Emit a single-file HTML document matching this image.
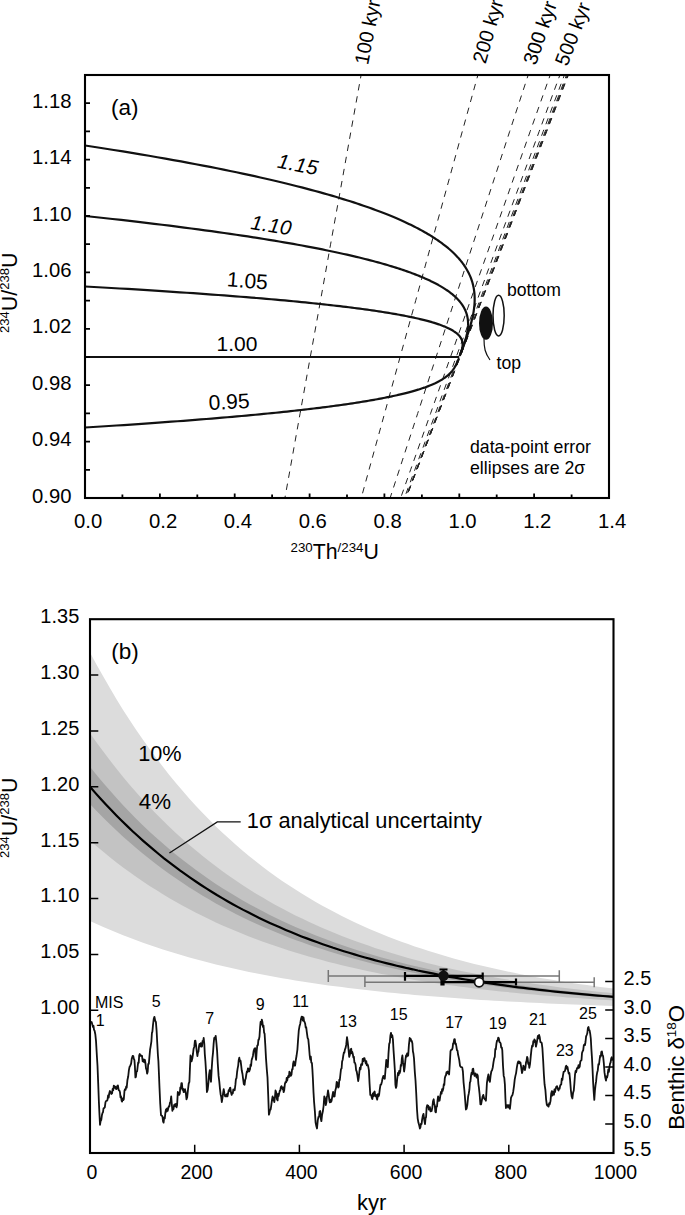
<!DOCTYPE html><html><head><meta charset="utf-8"><style>html,body{margin:0;padding:0;background:#fff;overflow:hidden;width:685px;height:1215px}svg{display:block}text{font-family:"Liberation Sans",sans-serif;fill:#000}</style></head><body>
<svg width="685" height="1215" viewBox="0 0 685 1215">
<rect width="685" height="1215" fill="#fff"/>
<defs><clipPath id="ca"><rect x="85" y="75" width="524" height="423"/></clipPath>
<clipPath id="cb"><rect x="90" y="619.2" width="523.5" height="533.8"/></clipPath></defs>
<g clip-path="url(#ca)" fill="none" stroke="#222" stroke-width="1" stroke-dasharray="6.4,5.9" stroke-dashoffset="3.0"><path d="M361.1,75.0 L350.9,131.4 L340.8,187.8 L330.6,244.2 L320.5,300.6 L310.3,357.0 L300.1,413.4 L290.0,469.8 L279.8,526.2"/><path d="M477.9,75.0 L462.3,131.4 L446.8,187.8 L431.2,244.2 L415.7,300.6 L400.1,357.0 L384.6,413.4 L369.0,469.8 L353.5,526.2"/><path d="M528.2,75.0 L509.7,131.4 L491.3,187.8 L472.9,244.2 L454.5,300.6 L436.1,357.0 L417.7,413.4 L399.3,469.8 L380.9,526.2"/><path d="M550.2,75.0 L530.2,131.4 L510.3,187.8 L490.4,244.2 L470.4,300.6 L450.5,357.0 L430.6,413.4 L410.6,469.8 L390.7,526.2"/><path d="M559.9,75.0 L539.2,131.4 L518.5,187.8 L497.7,244.2 L477.0,300.6 L456.2,357.0 L435.5,413.4 L414.8,469.8 L394.0,526.2"/><path d="M564.4,75.0 L543.2,131.4 L522.1,187.8 L500.9,244.2 L479.7,300.6 L458.5,357.0 L437.4,413.4 L416.2,469.8 L395.0,526.2"/><path d="M566.5,75.0 L545.1,131.4 L523.7,187.8 L502.3,244.2 L480.9,300.6 L459.5,357.0 L438.1,413.4 L416.7,469.8 L395.3,526.2"/><path d="M567.4,75.0 L545.9,131.4 L524.4,187.8 L502.9,244.2 L481.4,300.6 L459.8,357.0 L438.3,413.4 L416.8,469.8 L395.3,526.2"/><path d="M568.1,75.0 L546.5,131.4 L524.9,187.8 L503.3,244.2 L481.7,300.6 L460.0,357.0 L438.4,413.4 L416.8,469.8 L395.2,526.2"/><path d="M568.4,75.0 L546.7,131.4 L525.0,187.8 L503.4,244.2 L481.7,300.6 L460.1,357.0 L438.4,413.4 L416.8,469.8 L395.1,526.2"/></g>
<g clip-path="url(#ca)" fill="none" stroke="#111" stroke-width="2.2" stroke-linejoin="round"><path d="M85.00,145.50 L94.82,147.00 L104.40,148.49 L113.76,149.97 L122.90,151.44 L131.82,152.90 L140.52,154.35 L149.02,155.79 L157.31,157.22 L165.41,158.64 L173.32,160.05 L181.03,161.44 L188.56,162.83 L195.91,164.21 L203.09,165.58 L210.09,166.94 L216.93,168.29 L223.60,169.63 L230.11,170.96 L236.46,172.28 L242.66,173.59 L248.71,174.89 L254.62,176.19 L260.38,177.47 L266.00,178.74 L271.49,180.01 L276.84,181.27 L282.07,182.51 L287.17,183.75 L292.14,184.98 L296.99,186.20 L301.73,187.42 L306.35,188.62 L310.85,189.82 L315.25,191.00 L319.54,192.18 L323.72,193.35 L327.81,194.51 L331.79,195.67 L335.67,196.81 L339.46,197.95 L343.15,199.08 L346.76,200.20 L350.27,201.31 L353.70,202.42 L357.04,203.52 L360.30,204.61 L363.48,205.69 L366.58,206.76 L369.60,207.83 L372.55,208.89 L375.42,209.94 L378.23,210.98 L380.96,212.02 L383.62,213.05 L386.22,214.07 L388.75,215.09 L391.21,216.09 L393.62,217.09 L395.96,218.09 L398.24,219.07 L400.47,220.05 L402.64,221.03 L404.75,221.99 L406.81,222.95 L408.82,223.90 L410.77,224.85 L412.68,225.78 L414.53,226.72 L416.34,227.64 L418.10,228.56 L419.82,229.47 L421.49,230.38 L423.12,231.28 L424.70,232.17 L426.24,233.05 L427.75,233.93 L429.21,234.81 L430.63,235.68 L432.02,236.54 L433.37,237.39 L434.68,238.24 L435.96,239.08 L437.20,239.92 L438.42,240.75 L439.59,241.58 L440.74,242.40 L441.85,243.21 L442.94,244.02 L443.99,244.82 L445.02,245.62 L446.02,246.41 L446.99,247.19 L447.93,247.97 L448.85,248.75 L449.74,249.52 L450.61,250.28 L451.45,251.04 L452.27,251.79 L453.06,252.54 L453.84,253.28 L454.59,254.01 L455.32,254.75 L456.02,255.47 L456.71,256.19 L457.38,256.91 L458.03,257.62 L458.65,258.32 L459.26,259.03 L459.86,259.72 L460.43,260.41 L460.99,261.10 L461.53,261.78 L462.05,262.45 L462.56,263.13 L463.05,263.79 L463.53,264.45 L463.99,265.11 L464.44,265.76 L464.87,266.41 L466.47,268.96 L467.87,271.43 L469.08,273.83 L470.14,276.17 L471.05,278.44 L471.82,280.65 L472.48,282.80 L473.03,284.88 L473.48,286.91 L473.85,288.88 L474.13,290.79 L474.35,292.65 L474.51,294.46 L474.61,296.22 L474.66,297.92 L474.67,299.58 L474.64,301.20 L474.57,302.77 L474.47,304.29 L474.35,305.77 L474.20,307.21 L474.04,308.61 L473.85,309.97 L473.65,311.29 L473.44,312.57 L473.22,313.82 L472.99,315.04 L472.75,316.21 L472.50,317.36 L472.25,318.47 L471.99,319.56 L471.74,320.61 L471.48,321.63 L471.22,322.63 L470.96,323.59 L470.70,324.53 L470.44,325.44 L470.19,326.33 L469.93,327.19 L469.68,328.03 L469.43,328.84 L469.19,329.63 L468.95,330.40 L468.71,331.15 L468.47,331.88 L468.24,332.58 L468.02,333.27 L467.79,333.94 L467.58,334.58 L467.36,335.21 L467.15,335.83 L466.95,336.42 L466.75,337.00 L466.55,337.56 L466.36,338.11 L466.17,338.64 L465.99,339.15 L465.81,339.65 L465.63,340.14 L465.46,340.62 L465.30,341.08 L465.13,341.52 L464.97,341.96 L464.82,342.38 L464.67,342.79 L464.52,343.19 L464.38,343.58 L464.24,343.96 L464.10,344.32 L463.97,344.68 L463.84,345.03 L463.72,345.36 L463.59,345.69 L463.48,346.01 L463.36,346.32 L463.25,346.62 L463.14,346.91 L463.03,347.19 L462.93,347.47 L462.83,347.73 L462.73,347.99 L462.63,348.25 L462.54,348.49 L462.45,348.73 L462.36,348.97 L462.27,349.19 L462.19,349.41 L462.11,349.62 L462.03,349.83 L461.95,350.03 L461.88,350.23 L461.81,350.42 L461.74,350.60 L461.67,350.78 L461.60,350.96 L461.54,351.13 L461.47,351.29 L461.41,351.45 L461.35,351.61 L461.29,351.76 L461.24,351.91 L461.18,352.05 L461.13,352.19 L461.08,352.32 L461.03,352.46 L460.98,352.58 L460.93,352.71 L460.89,352.83 L460.84,352.95 L460.80,353.06 L460.76,353.17 L460.71,353.28 L460.67,353.38 L460.63,353.48 L460.60,353.58 L460.56,353.68 L460.52,353.77 L460.49,353.86 L460.46,353.95"/><path d="M85.00,216.00 L94.39,217.00 L103.57,218.00 L112.52,218.98 L121.27,219.96 L129.81,220.93 L138.15,221.90 L146.30,222.86 L154.25,223.81 L162.02,224.76 L169.60,225.70 L177.00,226.63 L184.23,227.55 L191.29,228.47 L198.18,229.39 L204.91,230.29 L211.48,231.19 L217.90,232.09 L224.16,232.97 L230.27,233.85 L236.24,234.73 L242.07,235.59 L247.76,236.46 L253.32,237.31 L258.74,238.16 L264.04,239.01 L269.20,239.84 L274.25,240.68 L279.17,241.50 L283.98,242.32 L288.67,243.14 L293.26,243.94 L297.73,244.75 L302.09,245.54 L306.35,246.34 L310.51,247.12 L314.57,247.90 L318.53,248.68 L322.40,249.44 L326.17,250.21 L329.85,250.97 L333.45,251.72 L336.95,252.47 L340.38,253.21 L343.72,253.95 L346.98,254.68 L350.16,255.40 L353.26,256.13 L356.29,256.84 L359.25,257.55 L362.13,258.26 L364.94,258.96 L367.69,259.66 L370.37,260.35 L372.98,261.03 L375.53,261.71 L378.01,262.39 L380.44,263.06 L382.81,263.73 L385.12,264.39 L387.37,265.05 L389.56,265.70 L391.71,266.35 L393.80,266.99 L395.83,267.63 L397.82,268.27 L399.76,268.90 L401.65,269.52 L403.49,270.14 L405.29,270.76 L407.04,271.37 L408.75,271.98 L410.42,272.58 L412.04,273.18 L413.63,273.78 L415.17,274.37 L416.68,274.96 L418.15,275.54 L419.58,276.12 L420.97,276.69 L422.33,277.26 L423.65,277.83 L424.95,278.39 L426.20,278.95 L427.43,279.50 L428.63,280.05 L429.79,280.60 L430.92,281.14 L432.03,281.68 L433.11,282.21 L434.15,282.75 L435.18,283.27 L436.17,283.80 L437.14,284.32 L438.09,284.83 L439.00,285.34 L439.90,285.85 L440.77,286.36 L441.62,286.86 L442.45,287.36 L443.25,287.85 L444.04,288.34 L444.80,288.83 L445.54,289.31 L446.26,289.80 L446.97,290.27 L447.65,290.75 L448.31,291.22 L448.96,291.68 L449.59,292.15 L450.20,292.61 L450.80,293.06 L451.38,293.52 L451.94,293.97 L452.49,294.42 L453.03,294.86 L453.54,295.30 L454.05,295.74 L454.54,296.18 L455.01,296.61 L456.78,298.30 L458.36,299.95 L459.76,301.56 L460.99,303.11 L462.09,304.63 L463.05,306.10 L463.89,307.53 L464.63,308.92 L465.27,310.27 L465.82,311.58 L466.29,312.86 L466.69,314.10 L467.03,315.31 L467.31,316.48 L467.53,317.62 L467.72,318.72 L467.86,319.80 L467.96,320.84 L468.03,321.86 L468.07,322.85 L468.08,323.81 L468.07,324.74 L468.04,325.65 L467.99,326.53 L467.93,327.38 L467.85,328.21 L467.76,329.02 L467.66,329.81 L467.55,330.57 L467.43,331.32 L467.30,332.04 L467.17,332.74 L467.03,333.42 L466.90,334.08 L466.75,334.73 L466.61,335.35 L466.46,335.96 L466.31,336.55 L466.17,337.13 L466.02,337.69 L465.87,338.23 L465.72,338.76 L465.58,339.27 L465.43,339.77 L465.29,340.25 L465.14,340.72 L465.00,341.18 L464.86,341.62 L464.73,342.06 L464.59,342.48 L464.46,342.88 L464.33,343.28 L464.20,343.67 L464.07,344.04 L463.95,344.40 L463.83,344.76 L463.71,345.10 L463.60,345.44 L463.48,345.76 L463.37,346.08 L463.26,346.38 L463.16,346.68 L463.05,346.97 L462.95,347.25 L462.85,347.53 L462.76,347.79 L462.66,348.05 L462.57,348.30 L462.48,348.55 L462.40,348.79 L462.31,349.02 L462.23,349.24 L462.15,349.46 L462.07,349.67 L461.99,349.88 L461.92,350.08 L461.85,350.27 L461.78,350.46 L461.71,350.64 L461.64,350.82 L461.58,351.00 L461.51,351.17 L461.45,351.33 L461.39,351.49 L461.33,351.64 L461.27,351.79 L461.22,351.94 L461.17,352.08 L461.11,352.22 L461.06,352.35 L461.01,352.49 L460.96,352.61 L460.92,352.74 L460.87,352.86 L460.83,352.97 L460.78,353.08 L460.74,353.19 L460.70,353.30 L460.66,353.41 L460.62,353.51 L460.59,353.60 L460.55,353.70 L460.51,353.79 L460.48,353.88 L460.45,353.97 L460.41,354.06 L460.38,354.14 L460.35,354.22 L460.32,354.30 L460.29,354.37 L460.27,354.45 L460.24,354.52 L460.21,354.59 L460.18,354.66 L460.16,354.72 L460.14,354.79 L460.11,354.85 L460.09,354.91 L460.07,354.97"/><path d="M85.00,286.50 L93.97,287.00 L102.73,287.50 L111.28,287.99 L119.64,288.48 L127.81,288.97 L135.78,289.45 L143.57,289.93 L151.18,290.41 L158.62,290.88 L165.88,291.35 L172.97,291.81 L179.90,292.28 L186.67,292.74 L193.28,293.19 L199.73,293.65 L206.04,294.10 L212.20,294.54 L218.21,294.99 L224.09,295.43 L229.83,295.86 L235.44,296.30 L240.91,296.73 L246.26,297.16 L251.48,297.58 L256.58,298.00 L261.56,298.42 L266.43,298.84 L271.18,299.25 L275.82,299.66 L280.36,300.07 L284.78,300.47 L289.11,300.87 L293.33,301.27 L297.46,301.67 L301.48,302.06 L305.42,302.45 L309.26,302.84 L313.01,303.22 L316.67,303.60 L320.25,303.98 L323.74,304.36 L327.15,304.73 L330.48,305.10 L333.74,305.47 L336.91,305.84 L340.01,306.20 L343.04,306.56 L346.00,306.92 L348.89,307.28 L351.71,307.63 L354.46,307.98 L357.15,308.33 L359.77,308.67 L362.34,309.02 L364.84,309.36 L367.28,309.70 L369.67,310.03 L372.00,310.36 L374.27,310.70 L376.49,311.02 L378.66,311.35 L380.77,311.68 L382.84,312.00 L384.85,312.32 L386.82,312.63 L388.74,312.95 L390.62,313.26 L392.45,313.57 L394.24,313.88 L395.98,314.19 L397.69,314.49 L399.35,314.79 L400.97,315.09 L402.56,315.39 L404.10,315.68 L405.61,315.98 L407.08,316.27 L408.52,316.56 L409.92,316.85 L411.29,317.13 L412.63,317.41 L413.93,317.69 L415.20,317.97 L416.45,318.25 L417.66,318.53 L418.84,318.80 L419.99,319.07 L421.12,319.34 L422.22,319.61 L423.29,319.87 L424.33,320.14 L425.35,320.40 L426.35,320.66 L427.32,320.92 L428.27,321.17 L429.19,321.43 L430.09,321.68 L430.97,321.93 L431.83,322.18 L432.67,322.43 L433.48,322.67 L434.28,322.92 L435.06,323.16 L435.81,323.40 L436.55,323.64 L437.27,323.87 L437.98,324.11 L438.66,324.34 L439.33,324.57 L439.98,324.80 L440.61,325.03 L441.23,325.26 L441.84,325.48 L442.43,325.71 L443.00,325.93 L443.56,326.15 L444.10,326.37 L444.63,326.59 L445.15,326.80 L447.10,327.65 L448.85,328.48 L450.43,329.28 L451.85,330.06 L453.13,330.81 L454.27,331.55 L455.30,332.27 L456.23,332.96 L457.05,333.64 L457.79,334.29 L458.44,334.93 L459.03,335.55 L459.55,336.15 L460.00,336.74 L460.41,337.31 L460.76,337.86 L461.07,338.40 L461.35,338.92 L461.58,339.43 L461.78,339.92 L461.96,340.40 L462.11,340.87 L462.23,341.32 L462.33,341.76 L462.41,342.19 L462.48,342.61 L462.53,343.01 L462.57,343.40 L462.59,343.79 L462.60,344.16 L462.61,344.52 L462.60,344.87 L462.59,345.21 L462.57,345.54 L462.55,345.86 L462.52,346.18 L462.48,346.48 L462.44,346.78 L462.40,347.06 L462.35,347.34 L462.31,347.61 L462.26,347.88 L462.20,348.13 L462.15,348.38 L462.10,348.63 L462.04,348.86 L461.99,349.09 L461.93,349.31 L461.88,349.53 L461.82,349.74 L461.76,349.94 L461.71,350.14 L461.65,350.33 L461.60,350.52 L461.54,350.70 L461.49,350.88 L461.44,351.05 L461.38,351.22 L461.33,351.38 L461.28,351.54 L461.23,351.69 L461.18,351.84 L461.13,351.99 L461.09,352.13 L461.04,352.26 L460.99,352.40 L460.95,352.53 L460.91,352.65 L460.86,352.77 L460.82,352.89 L460.78,353.01 L460.74,353.12 L460.70,353.23 L460.66,353.34 L460.63,353.44 L460.59,353.54 L460.56,353.64 L460.52,353.73 L460.49,353.82 L460.46,353.91 L460.42,354.00 L460.39,354.08 L460.36,354.16 L460.33,354.24 L460.30,354.32 L460.28,354.40 L460.25,354.47 L460.22,354.54 L460.20,354.61 L460.17,354.68 L460.15,354.74 L460.12,354.81 L460.10,354.87 L460.08,354.93 L460.06,354.99 L460.03,355.04 L460.01,355.10 L459.99,355.15 L459.97,355.20 L459.95,355.25 L459.94,355.30 L459.92,355.35 L459.90,355.40 L459.88,355.44 L459.87,355.49 L459.85,355.53 L459.83,355.57 L459.82,355.61 L459.80,355.65 L459.79,355.69 L459.77,355.72 L459.76,355.76 L459.75,355.79 L459.73,355.83 L459.72,355.86 L459.71,355.89 L459.70,355.92 L459.69,355.95 L459.68,355.98"/><path d="M85.00,357.00 L93.54,357.00 L101.89,357.00 L110.05,357.00 L118.02,357.00 L125.80,357.00 L133.42,357.00 L140.85,357.00 L148.12,357.00 L155.22,357.00 L162.16,357.00 L168.94,357.00 L175.57,357.00 L182.04,357.00 L188.37,357.00 L194.55,357.00 L200.59,357.00 L206.50,357.00 L212.27,357.00 L217.91,357.00 L223.41,357.00 L228.80,357.00 L234.06,357.00 L239.20,357.00 L244.22,357.00 L249.13,357.00 L253.93,357.00 L258.61,357.00 L263.19,357.00 L267.67,357.00 L272.04,357.00 L276.31,357.00 L280.49,357.00 L284.57,357.00 L288.56,357.00 L292.45,357.00 L296.26,357.00 L299.98,357.00 L303.62,357.00 L307.17,357.00 L310.64,357.00 L314.03,357.00 L317.35,357.00 L320.59,357.00 L323.75,357.00 L326.85,357.00 L329.87,357.00 L332.82,357.00 L335.71,357.00 L338.53,357.00 L341.29,357.00 L343.98,357.00 L346.61,357.00 L349.18,357.00 L351.69,357.00 L354.15,357.00 L356.55,357.00 L358.89,357.00 L361.19,357.00 L363.42,357.00 L365.61,357.00 L367.75,357.00 L369.84,357.00 L371.88,357.00 L373.87,357.00 L375.82,357.00 L377.73,357.00 L379.59,357.00 L381.41,357.00 L383.19,357.00 L384.92,357.00 L386.62,357.00 L388.28,357.00 L389.90,357.00 L391.48,357.00 L393.03,357.00 L394.54,357.00 L396.02,357.00 L397.46,357.00 L398.87,357.00 L400.25,357.00 L401.60,357.00 L402.92,357.00 L404.20,357.00 L405.46,357.00 L406.69,357.00 L407.89,357.00 L409.06,357.00 L410.21,357.00 L411.33,357.00 L412.42,357.00 L413.49,357.00 L414.54,357.00 L415.56,357.00 L416.56,357.00 L417.53,357.00 L418.48,357.00 L419.42,357.00 L420.33,357.00 L421.22,357.00 L422.08,357.00 L422.93,357.00 L423.76,357.00 L424.57,357.00 L425.37,357.00 L426.14,357.00 L426.90,357.00 L427.64,357.00 L428.36,357.00 L429.06,357.00 L429.75,357.00 L430.43,357.00 L431.09,357.00 L431.73,357.00 L432.36,357.00 L432.97,357.00 L433.57,357.00 L434.16,357.00 L434.73,357.00 L435.29,357.00 L437.41,357.00 L439.34,357.00 L441.10,357.00 L442.70,357.00 L444.17,357.00 L445.50,357.00 L446.72,357.00 L447.82,357.00 L448.84,357.00 L449.76,357.00 L450.60,357.00 L451.36,357.00 L452.06,357.00 L452.70,357.00 L453.28,357.00 L453.81,357.00 L454.29,357.00 L454.73,357.00 L455.14,357.00 L455.50,357.00 L455.84,357.00 L456.14,357.00 L456.42,357.00 L456.67,357.00 L456.90,357.00 L457.11,357.00 L457.30,357.00 L457.48,357.00 L457.64,357.00 L457.78,357.00 L457.92,357.00 L458.04,357.00 L458.15,357.00 L458.25,357.00 L458.34,357.00 L458.42,357.00 L458.50,357.00 L458.57,357.00 L458.63,357.00 L458.69,357.00 L458.74,357.00 L458.79,357.00 L458.83,357.00 L458.87,357.00 L458.91,357.00 L458.94,357.00 L458.97,357.00 L459.00,357.00 L459.03,357.00 L459.05,357.00 L459.07,357.00 L459.09,357.00 L459.11,357.00 L459.12,357.00 L459.14,357.00 L459.15,357.00 L459.16,357.00 L459.17,357.00 L459.18,357.00 L459.19,357.00 L459.20,357.00 L459.21,357.00 L459.21,357.00 L459.22,357.00 L459.23,357.00 L459.23,357.00 L459.24,357.00 L459.24,357.00 L459.24,357.00 L459.25,357.00 L459.25,357.00 L459.25,357.00 L459.26,357.00 L459.26,357.00 L459.26,357.00 L459.26,357.00 L459.27,357.00 L459.27,357.00 L459.27,357.00 L459.27,357.00 L459.27,357.00 L459.27,357.00 L459.27,357.00 L459.28,357.00 L459.28,357.00 L459.28,357.00 L459.28,357.00 L459.28,357.00 L459.28,357.00 L459.28,357.00 L459.28,357.00 L459.28,357.00 L459.28,357.00 L459.28,357.00 L459.28,357.00 L459.28,357.00 L459.28,357.00 L459.28,357.00 L459.28,357.00 L459.28,357.00 L459.28,357.00 L459.28,357.00 L459.28,357.00 L459.28,357.00 L459.28,357.00 L459.28,357.00 L459.28,357.00 L459.28,357.00 L459.28,357.00 L459.28,357.00 L459.28,357.00 L459.28,357.00 L459.29,357.00 L459.29,357.00 L459.29,357.00 L459.29,357.00 L459.29,357.00 L459.29,357.00 L459.29,357.00"/><path d="M85.00,427.50 L93.12,427.00 L101.05,426.50 L108.81,426.01 L116.39,425.52 L123.80,425.03 L131.05,424.55 L138.13,424.07 L145.05,423.59 L151.82,423.12 L158.44,422.65 L164.91,422.19 L171.24,421.72 L177.42,421.26 L183.46,420.81 L189.37,420.35 L195.15,419.90 L200.80,419.46 L206.32,419.01 L211.72,418.57 L217.00,418.14 L222.16,417.70 L227.21,417.27 L232.14,416.84 L236.96,416.42 L241.68,416.00 L246.29,415.58 L250.79,415.16 L255.20,414.75 L259.51,414.34 L263.72,413.93 L267.84,413.53 L271.87,413.13 L275.81,412.73 L279.66,412.33 L283.43,411.94 L287.11,411.55 L290.71,411.16 L294.23,410.78 L297.67,410.40 L301.04,410.02 L304.33,409.64 L307.55,409.27 L310.69,408.90 L313.77,408.53 L316.78,408.16 L319.73,407.80 L322.60,407.44 L325.42,407.08 L328.17,406.72 L330.86,406.37 L333.50,406.02 L336.07,405.67 L338.59,405.33 L341.05,404.98 L343.46,404.64 L345.82,404.30 L348.12,403.97 L350.37,403.64 L352.58,403.30 L354.73,402.98 L356.84,402.65 L358.91,402.32 L360.92,402.00 L362.90,401.68 L364.83,401.37 L366.71,401.05 L368.56,400.74 L370.37,400.43 L372.13,400.12 L373.86,399.81 L375.55,399.51 L377.21,399.21 L378.83,398.91 L380.41,398.61 L381.96,398.32 L383.47,398.02 L384.96,397.73 L386.41,397.44 L387.83,397.15 L389.21,396.87 L390.57,396.59 L391.90,396.31 L393.20,396.03 L394.48,395.75 L395.72,395.47 L396.94,395.20 L398.13,394.93 L399.30,394.66 L400.44,394.39 L401.56,394.13 L402.65,393.86 L403.72,393.60 L404.77,393.34 L405.79,393.08 L406.80,392.83 L407.78,392.57 L408.74,392.32 L409.68,392.07 L410.60,391.82 L411.50,391.57 L412.38,391.33 L413.24,391.08 L414.09,390.84 L414.92,390.60 L415.73,390.36 L416.52,390.13 L417.30,389.89 L418.06,389.66 L418.80,389.43 L419.53,389.20 L420.24,388.97 L420.94,388.74 L421.62,388.52 L422.29,388.29 L422.95,388.07 L423.59,387.85 L424.22,387.63 L424.83,387.41 L425.44,387.20 L427.72,386.35 L429.83,385.52 L431.77,384.72 L433.56,383.94 L435.21,383.19 L436.73,382.45 L438.13,381.73 L439.42,381.04 L440.62,380.36 L441.73,379.71 L442.75,379.07 L443.70,378.45 L444.58,377.85 L445.40,377.26 L446.15,376.69 L446.86,376.14 L447.51,375.60 L448.12,375.08 L448.69,374.57 L449.22,374.08 L449.71,373.60 L450.17,373.13 L450.61,372.68 L451.01,372.24 L451.39,371.81 L451.74,371.39 L452.08,370.99 L452.39,370.60 L452.68,370.21 L452.96,369.84 L453.22,369.48 L453.47,369.13 L453.70,368.79 L453.92,368.46 L454.13,368.14 L454.33,367.82 L454.52,367.52 L454.69,367.22 L454.86,366.94 L455.02,366.66 L455.18,366.39 L455.32,366.12 L455.46,365.87 L455.59,365.62 L455.72,365.37 L455.84,365.14 L455.96,364.91 L456.07,364.69 L456.18,364.47 L456.28,364.26 L456.38,364.06 L456.47,363.86 L456.56,363.67 L456.65,363.48 L456.73,363.30 L456.81,363.12 L456.89,362.95 L456.96,362.78 L457.03,362.62 L457.10,362.46 L457.17,362.31 L457.23,362.16 L457.29,362.01 L457.35,361.87 L457.41,361.74 L457.47,361.60 L457.52,361.47 L457.57,361.35 L457.63,361.23 L457.67,361.11 L457.72,360.99 L457.77,360.88 L457.81,360.77 L457.85,360.66 L457.90,360.56 L457.94,360.46 L457.98,360.36 L458.01,360.27 L458.05,360.18 L458.09,360.09 L458.12,360.00 L458.15,359.92 L458.19,359.84 L458.22,359.76 L458.25,359.68 L458.28,359.60 L458.31,359.53 L458.34,359.46 L458.36,359.39 L458.39,359.32 L458.41,359.26 L458.44,359.19 L458.46,359.13 L458.49,359.07 L458.51,359.01 L458.53,358.96 L458.55,358.90 L458.57,358.85 L458.59,358.80 L458.61,358.75 L458.63,358.70 L458.65,358.65 L458.67,358.60 L458.69,358.56 L458.70,358.51 L458.72,358.47 L458.74,358.43 L458.75,358.39 L458.77,358.35 L458.78,358.31 L458.79,358.28 L458.81,358.24 L458.82,358.21 L458.84,358.17 L458.85,358.14 L458.86,358.11 L458.87,358.08 L458.88,358.05 L458.90,358.02"/></g>
<ellipse cx="486" cy="323.2" rx="7" ry="16.6" fill="#111"/>
<ellipse cx="498.6" cy="315.6" rx="5.6" ry="20.3" fill="#fff" stroke="#111" stroke-width="1.5"/>
<path d="M484,339 C484,348 485,353 490,360" fill="none" stroke="#111" stroke-width="1.2"/>
<text x="507" y="295.5" font-size="17.6">bottom</text>
<text x="496.5" y="369" font-size="17.6">top</text>
<text x="470" y="452.8" font-size="17.7">data-point error</text>
<text x="470" y="473.6" font-size="17.7">ellipses are 2σ</text>
<rect x="85" y="75" width="524" height="423" fill="none" stroke="#000" stroke-width="2.1"/>
<path d="M122.4,498 v-3.6 M159.9,498 v-4.6 M197.3,498 v-3.6 M234.7,498 v-4.6 M272.1,498 v-3.6 M309.6,498 v-4.6 M347.0,498 v-3.6 M384.4,498 v-4.6 M421.9,498 v-3.6 M459.3,498 v-4.6 M496.7,498 v-3.6 M534.1,498 v-4.6 M571.6,498 v-3.6 M85,469.8 h5.0 M85,441.6 h5.0 M85,413.4 h5.0 M85,385.2 h5.0 M85,357.0 h5.0 M85,328.8 h5.0 M85,300.6 h5.0 M85,272.4 h5.0 M85,244.2 h5.0 M85,216.0 h5.0 M85,187.8 h5.0 M85,159.6 h5.0 M85,131.4 h5.0 M85,103.2 h5.0" stroke="#000" stroke-width="1.8" fill="none"/>
<text x="88.2" y="527.5" font-size="20.3" text-anchor="middle">0.0</text>
<text x="163.1" y="527.5" font-size="20.3" text-anchor="middle">0.2</text>
<text x="237.9" y="527.5" font-size="20.3" text-anchor="middle">0.4</text>
<text x="312.8" y="527.5" font-size="20.3" text-anchor="middle">0.6</text>
<text x="387.6" y="527.5" font-size="20.3" text-anchor="middle">0.8</text>
<text x="462.5" y="527.5" font-size="20.3" text-anchor="middle">1.0</text>
<text x="537.3" y="527.5" font-size="20.3" text-anchor="middle">1.2</text>
<text x="612.2" y="527.5" font-size="20.3" text-anchor="middle">1.4</text>
<text x="71.5" y="502.6" font-size="20.3" text-anchor="end">0.90</text>
<text x="71.5" y="446.2" font-size="20.3" text-anchor="end">0.94</text>
<text x="71.5" y="389.8" font-size="20.3" text-anchor="end">0.98</text>
<text x="71.5" y="333.4" font-size="20.3" text-anchor="end">1.02</text>
<text x="71.5" y="277.0" font-size="20.3" text-anchor="end">1.06</text>
<text x="71.5" y="220.6" font-size="20.3" text-anchor="end">1.10</text>
<text x="71.5" y="164.2" font-size="20.3" text-anchor="end">1.14</text>
<text x="71.5" y="107.8" font-size="20.3" text-anchor="end">1.18</text>
<text x="111" y="115.2" font-size="22.5">(a)</text>
<text x="290.5" y="559.4" font-size="21.3"><tspan font-size="13.3" dy="-7.6">230</tspan><tspan dy="7.6">Th</tspan><tspan font-size="13.3" dy="-7.6">/234</tspan><tspan dy="7.6">U</tspan></text>
<text transform="translate(17,333) rotate(-90)" font-size="21.5"><tspan font-size="13" dy="-8.5">234</tspan><tspan dy="8.5">U/</tspan><tspan font-size="13" dy="-8.5">238</tspan><tspan dy="8.5">U</tspan></text>
<text transform="translate(276.5,167.5) rotate(11)" font-size="20.5" font-style="italic" letter-spacing="0.3">1.15</text>
<text transform="translate(250,229) rotate(9)" font-size="20.5" font-style="italic" letter-spacing="0.3">1.10</text>
<text transform="translate(226.5,286.3) rotate(4.5)" font-size="21">1.05</text>
<text x="216.5" y="350.9" font-size="21">1.00</text>
<text transform="translate(209,410) rotate(-3)" font-size="21">0.95</text>
<text transform="translate(368,65.5) rotate(-79)" font-size="20">100 kyr</text>
<text transform="translate(485.4,64.5) rotate(-73.8)" font-size="20">200 kyr</text>
<text transform="translate(535.8,66) rotate(-71)" font-size="20">300 kyr</text>
<text transform="translate(567.3,67) rotate(-69)" font-size="20">500 kyr</text>
<g clip-path="url(#cb)">
<path d="M90.0,652.4 L96.6,664.7 L103.3,676.6 L109.9,688.1 L116.5,699.2 L123.1,709.9 L129.8,720.2 L136.4,730.2 L143.0,739.8 L149.6,749.1 L156.3,758.1 L162.9,766.8 L169.5,775.2 L176.1,783.3 L182.8,791.1 L189.4,798.7 L196.0,806.0 L202.7,813.0 L209.3,819.8 L215.9,826.4 L222.5,832.7 L229.2,838.8 L235.8,844.8 L242.4,850.5 L249.0,856.0 L255.7,861.3 L262.3,866.5 L268.9,871.4 L275.5,876.2 L282.2,880.9 L288.8,885.3 L295.4,889.6 L302.1,893.8 L308.7,897.8 L315.3,901.7 L321.9,905.5 L328.6,909.1 L335.2,912.6 L341.8,916.0 L348.4,919.3 L355.1,922.4 L361.7,925.5 L368.3,928.4 L374.9,931.3 L381.6,934.0 L388.2,936.7 L394.8,939.2 L401.4,941.7 L408.1,944.1 L414.7,946.4 L421.3,948.6 L428.0,950.8 L434.6,952.8 L441.2,954.8 L447.8,956.8 L454.5,958.7 L461.1,960.5 L467.7,962.2 L474.3,963.9 L481.0,965.5 L487.6,967.1 L494.2,968.6 L500.8,970.1 L507.5,971.5 L514.1,972.8 L520.7,974.2 L527.4,975.4 L534.0,976.7 L540.6,977.9 L547.2,979.0 L553.9,980.1 L560.5,981.2 L567.1,982.2 L573.7,983.2 L580.4,984.2 L587.0,985.1 L593.6,986.0 L600.2,986.9 L606.9,987.7 L613.5,988.5 L613.5,1005.9 L606.9,1005.7 L600.2,1005.4 L593.6,1005.2 L587.0,1005.0 L580.4,1004.7 L573.7,1004.5 L567.1,1004.2 L560.5,1004.0 L553.9,1003.7 L547.2,1003.4 L540.6,1003.1 L534.0,1002.8 L527.4,1002.5 L520.7,1002.1 L514.1,1001.8 L507.5,1001.4 L500.8,1001.1 L494.2,1000.7 L487.6,1000.3 L481.0,999.9 L474.3,999.5 L467.7,999.0 L461.1,998.6 L454.5,998.1 L447.8,997.6 L441.2,997.1 L434.6,996.6 L428.0,996.1 L421.3,995.5 L414.7,994.9 L408.1,994.3 L401.4,993.7 L394.8,993.1 L388.2,992.4 L381.6,991.8 L374.9,991.0 L368.3,990.3 L361.7,989.6 L355.1,988.8 L348.4,988.0 L341.8,987.1 L335.2,986.3 L328.6,985.4 L321.9,984.5 L315.3,983.5 L308.7,982.5 L302.1,981.5 L295.4,980.4 L288.8,979.3 L282.2,978.2 L275.5,977.0 L268.9,975.8 L262.3,974.5 L255.7,973.2 L249.0,971.9 L242.4,970.5 L235.8,969.1 L229.2,967.6 L222.5,966.0 L215.9,964.4 L209.3,962.8 L202.7,961.0 L196.0,959.3 L189.4,957.4 L182.8,955.5 L176.1,953.6 L169.5,951.6 L162.9,949.5 L156.3,947.3 L149.6,945.0 L143.0,942.7 L136.4,940.3 L129.8,937.8 L123.1,935.2 L116.5,932.5 L109.9,929.8 L103.3,926.9 L96.6,924.0 L90.0,920.9Z" fill="#dcdcdc"/>
<path d="M90.0,733.2 L96.6,742.5 L103.3,751.6 L109.9,760.3 L116.5,768.8 L123.1,777.0 L129.8,784.9 L136.4,792.5 L143.0,799.9 L149.6,807.0 L156.3,813.9 L162.9,820.6 L169.5,827.0 L176.1,833.2 L182.8,839.2 L189.4,845.0 L196.0,850.6 L202.7,856.0 L209.3,861.3 L215.9,866.3 L222.5,871.2 L229.2,876.0 L235.8,880.5 L242.4,885.0 L249.0,889.2 L255.7,893.4 L262.3,897.3 L268.9,901.2 L275.5,904.9 L282.2,908.5 L288.8,912.0 L295.4,915.4 L302.1,918.6 L308.7,921.7 L315.3,924.8 L321.9,927.7 L328.6,930.5 L335.2,933.3 L341.8,935.9 L348.4,938.5 L355.1,940.9 L361.7,943.3 L368.3,945.6 L374.9,947.9 L381.6,950.0 L388.2,952.1 L394.8,954.1 L401.4,956.1 L408.1,957.9 L414.7,959.8 L421.3,961.5 L428.0,963.2 L434.6,964.8 L441.2,966.4 L447.8,968.0 L454.5,969.4 L461.1,970.9 L467.7,972.3 L474.3,973.6 L481.0,974.9 L487.6,976.1 L494.2,977.3 L500.8,978.5 L507.5,979.6 L514.1,980.7 L520.7,981.8 L527.4,982.8 L534.0,983.8 L540.6,984.7 L547.2,985.6 L553.9,986.5 L560.5,987.4 L567.1,988.2 L573.7,989.0 L580.4,989.8 L587.0,990.5 L593.6,991.2 L600.2,991.9 L606.9,992.6 L613.5,993.3 L613.5,1000.5 L606.9,1000.1 L600.2,999.7 L593.6,999.2 L587.0,998.8 L580.4,998.3 L573.7,997.8 L567.1,997.4 L560.5,996.8 L553.9,996.3 L547.2,995.8 L540.6,995.2 L534.0,994.6 L527.4,994.0 L520.7,993.4 L514.1,992.7 L507.5,992.1 L500.8,991.4 L494.2,990.7 L487.6,989.9 L481.0,989.2 L474.3,988.4 L467.7,987.5 L461.1,986.7 L454.5,985.8 L447.8,984.9 L441.2,984.0 L434.6,983.0 L428.0,982.0 L421.3,980.9 L414.7,979.9 L408.1,978.7 L401.4,977.6 L394.8,976.4 L388.2,975.1 L381.6,973.9 L374.9,972.5 L368.3,971.2 L361.7,969.8 L355.1,968.3 L348.4,966.8 L341.8,965.2 L335.2,963.6 L328.6,961.9 L321.9,960.1 L315.3,958.3 L308.7,956.5 L302.1,954.5 L295.4,952.5 L288.8,950.5 L282.2,948.3 L275.5,946.1 L268.9,943.8 L262.3,941.5 L255.7,939.0 L249.0,936.5 L242.4,933.8 L235.8,931.1 L229.2,928.3 L222.5,925.4 L215.9,922.4 L209.3,919.3 L202.7,916.0 L196.0,912.7 L189.4,909.3 L182.8,905.7 L176.1,902.0 L169.5,898.2 L162.9,894.2 L156.3,890.1 L149.6,885.9 L143.0,881.5 L136.4,877.0 L129.8,872.3 L123.1,867.4 L116.5,862.4 L109.9,857.2 L103.3,851.8 L96.6,846.2 L90.0,840.5Z" fill="#c3c3c3"/>
<path d="M90.0,766.7 L96.6,774.9 L103.3,782.9 L109.9,790.6 L116.5,798.0 L123.1,805.2 L129.8,812.2 L136.4,818.9 L143.0,825.4 L149.6,831.7 L156.3,837.7 L162.9,843.6 L169.5,849.2 L176.1,854.7 L182.8,860.0 L189.4,865.1 L196.0,870.0 L202.7,874.8 L209.3,879.4 L215.9,883.9 L222.5,888.2 L229.2,892.3 L235.8,896.3 L242.4,900.2 L249.0,904.0 L255.7,907.6 L262.3,911.1 L268.9,914.5 L275.5,917.8 L282.2,921.0 L288.8,924.0 L295.4,927.0 L302.1,929.8 L308.7,932.6 L315.3,935.3 L321.9,937.8 L328.6,940.3 L335.2,942.7 L341.8,945.1 L348.4,947.3 L355.1,949.5 L361.7,951.6 L368.3,953.6 L374.9,955.6 L381.6,957.5 L388.2,959.3 L394.8,961.1 L401.4,962.8 L408.1,964.4 L414.7,966.0 L421.3,967.6 L428.0,969.1 L434.6,970.5 L441.2,971.9 L447.8,973.3 L454.5,974.6 L461.1,975.8 L467.7,977.0 L474.3,978.2 L481.0,979.3 L487.6,980.4 L494.2,981.5 L500.8,982.5 L507.5,983.5 L514.1,984.5 L520.7,985.4 L527.4,986.3 L534.0,987.2 L540.6,988.0 L547.2,988.8 L553.9,989.6 L560.5,990.3 L567.1,991.1 L573.7,991.8 L580.4,992.4 L587.0,993.1 L593.6,993.7 L600.2,994.3 L606.9,994.9 L613.5,995.5 L613.5,998.0 L606.9,997.5 L600.2,997.0 L593.6,996.5 L587.0,996.0 L580.4,995.4 L573.7,994.8 L567.1,994.2 L560.5,993.6 L553.9,993.0 L547.2,992.3 L540.6,991.6 L534.0,990.9 L527.4,990.2 L520.7,989.4 L514.1,988.7 L507.5,987.9 L500.8,987.0 L494.2,986.1 L487.6,985.2 L481.0,984.3 L474.3,983.4 L467.7,982.4 L461.1,981.3 L454.5,980.3 L447.8,979.2 L441.2,978.0 L434.6,976.8 L428.0,975.6 L421.3,974.3 L414.7,973.0 L408.1,971.7 L401.4,970.3 L394.8,968.8 L388.2,967.3 L381.6,965.8 L374.9,964.2 L368.3,962.5 L361.7,960.8 L355.1,959.0 L348.4,957.2 L341.8,955.2 L335.2,953.3 L328.6,951.2 L321.9,949.1 L315.3,946.9 L308.7,944.7 L302.1,942.3 L295.4,939.9 L288.8,937.4 L282.2,934.8 L275.5,932.1 L268.9,929.3 L262.3,926.5 L255.7,923.5 L249.0,920.4 L242.4,917.2 L235.8,913.9 L229.2,910.5 L222.5,907.0 L215.9,903.4 L209.3,899.6 L202.7,895.7 L196.0,891.6 L189.4,887.4 L182.8,883.1 L176.1,878.6 L169.5,874.0 L162.9,869.2 L156.3,864.2 L149.6,859.1 L143.0,853.8 L136.4,848.3 L129.8,842.6 L123.1,836.7 L116.5,830.6 L109.9,824.3 L103.3,817.8 L96.6,811.0 L90.0,804.0Z" fill="#a5a5a5"/>
<path d="M90.0,786.8 L95.3,792.9 L100.6,798.8 L105.9,804.5 L111.2,810.1 L116.4,815.5 L121.7,820.8 L127.0,825.9 L132.3,831.0 L137.6,835.8 L142.9,840.6 L148.2,845.2 L153.5,849.7 L158.7,854.0 L164.0,858.3 L169.3,862.4 L174.6,866.4 L179.9,870.4 L185.2,874.2 L190.5,877.9 L195.8,881.5 L201.0,885.0 L206.3,888.4 L211.6,891.7 L216.9,895.0 L222.2,898.1 L227.5,901.2 L232.8,904.2 L238.1,907.1 L243.3,909.9 L248.6,912.6 L253.9,915.3 L259.2,917.9 L264.5,920.4 L269.8,922.9 L275.1,925.3 L280.4,927.6 L285.7,929.9 L290.9,932.1 L296.2,934.3 L301.5,936.4 L306.8,938.4 L312.1,940.4 L317.4,942.3 L322.7,944.2 L328.0,946.0 L333.2,947.8 L338.5,949.5 L343.8,951.2 L349.1,952.8 L354.4,954.4 L359.7,956.0 L365.0,957.5 L370.3,958.9 L375.5,960.4 L380.8,961.8 L386.1,963.1 L391.4,964.4 L396.7,965.7 L402.0,966.9 L407.3,968.2 L412.6,969.3 L417.8,970.5 L423.1,971.6 L428.4,972.7 L433.7,973.7 L439.0,974.8 L444.3,975.8 L449.6,976.8 L454.9,977.7 L460.2,978.6 L465.4,979.5 L470.7,980.4 L476.0,981.2 L481.3,982.1 L486.6,982.9 L491.9,983.7 L497.2,984.4 L502.5,985.2 L507.7,985.9 L513.0,986.6 L518.3,987.3 L523.6,987.9 L528.9,988.6 L534.2,989.2 L539.5,989.8 L544.8,990.4 L550.0,991.0 L555.3,991.6 L560.6,992.1 L565.9,992.7 L571.2,993.2 L576.5,993.7 L581.8,994.2 L587.1,994.7 L592.3,995.1 L597.6,995.6 L602.9,996.0 L608.2,996.4 L613.5,996.9" fill="none" stroke="#000" stroke-width="2.2"/>
</g>
<g stroke="#777" stroke-width="1.5" fill="none"><path d="M328.3,976 H559.3 M328.3,970 v12 M559.3,970.3 v12 M364.9,982.3 H594.2 M364.9,976.4 v10.5 M594.2,977.2 v10"/></g>
<g stroke="#000" stroke-width="2.2" fill="none"><path d="M405,975.8 H482.7 M405,972 v8.8 M482.7,972.5 v6.4 M441.5,982.2 H516 M441.5,979 v6.5 M516,978.5 v7 M443.5,969.5 v16 M439.5,969.5 h8"/></g>
<circle cx="443.5" cy="975.8" r="5.2" fill="#111"/>
<circle cx="479.1" cy="982.2" r="4.6" fill="#fff" stroke="#111" stroke-width="1.8"/>
<path d="M169.4,853 L217.3,821.9 H240.7" fill="none" stroke="#111" stroke-width="1.3"/>
<text x="246.8" y="827.6" font-size="21.8">1σ analytical uncertainty</text>
<text x="138.2" y="761.4" font-size="21.7">10%</text>
<text x="138.8" y="808.5" font-size="22.3">4%</text>
<text x="111.2" y="659.3" font-size="22.5">(b)</text>
<path d="M90.9,1021.9 L91.7,1022.2 L92.4,1024.8 L93.0,1027.0 L93.5,1025.9 L94.0,1029.8 L94.6,1030.7 L95.3,1034.2 L96.0,1040.9 L96.8,1054.5 L97.5,1065.7 L98.2,1083.4 L98.9,1102.2 L99.5,1115.0 L100.0,1124.8 L100.6,1121.2 L101.3,1119.8 L101.9,1115.3 L102.5,1112.9 L103.0,1112.2 L103.5,1108.5 L104.1,1108.0 L104.8,1107.3 L105.5,1102.2 L106.2,1100.8 L107.0,1100.7 L107.5,1099.8 L108.1,1095.3 L108.7,1097.7 L109.2,1093.4 L109.9,1091.0 L110.6,1092.0 L111.3,1094.0 L112.1,1093.4 L112.6,1089.0 L113.2,1090.3 L113.8,1085.6 L114.3,1086.1 L114.8,1087.9 L115.4,1086.8 L116.0,1088.9 L116.5,1089.0 L117.2,1086.1 L117.9,1085.4 L118.7,1090.1 L119.4,1090.5 L120.0,1092.3 L120.5,1097.3 L121.0,1096.3 L121.6,1100.7 L122.1,1101.6 L122.7,1098.4 L123.2,1100.2 L123.8,1099.3 L124.5,1090.5 L125.0,1089.2 L125.6,1089.9 L126.2,1086.4 L126.7,1087.6 L127.4,1080.3 L128.2,1076.5 L128.9,1070.1 L129.6,1066.8 L130.3,1065.7 L131.1,1063.7 L131.8,1058.4 L132.6,1055.9 L133.3,1056.2 L133.9,1059.1 L134.4,1059.9 L134.9,1066.5 L135.4,1077.4 L135.9,1076.8 L136.5,1071.4 L137.1,1071.4 L137.6,1067.2 L138.2,1062.3 L138.7,1062.9 L139.2,1055.3 L139.8,1054.0 L140.6,1055.8 L141.3,1055.5 L142.0,1055.8 L142.7,1061.3 L143.2,1061.6 L143.8,1059.3 L144.3,1062.3 L144.9,1059.9 L145.4,1062.6 L146.0,1068.3 L146.6,1069.8 L147.1,1073.7 L147.7,1071.7 L148.2,1064.0 L148.8,1063.9 L149.3,1058.4 L150.1,1049.5 L150.8,1045.3 L151.4,1041.3 L151.9,1033.1 L152.4,1031.6 L153.0,1024.8 L153.7,1019.1 L154.4,1016.8 L155.2,1020.8 L155.9,1021.9 L156.6,1030.6 L157.3,1043.8 L157.9,1055.0 L158.4,1061.3 L158.9,1073.0 L159.5,1087.6 L160.2,1103.3 L161.0,1115.3 L161.8,1115.5 L162.5,1116.8 L163.1,1121.6 L163.6,1122.6 L164.2,1117.4 L164.8,1118.4 L165.4,1112.4 L166.0,1109.3 L166.6,1111.7 L167.1,1108.5 L167.7,1110.8 L168.3,1108.0 L168.9,1106.1 L169.4,1106.5 L169.9,1102.9 L170.5,1102.2 L171.2,1096.4 L171.8,1104.3 L172.4,1110.9 L173.0,1108.4 L173.5,1109.1 L174.1,1105.1 L174.7,1104.4 L175.3,1106.0 L175.9,1103.8 L176.5,1107.4 L177.1,1105.1 L177.8,1092.0 L178.5,1092.9 L179.2,1094.9 L179.8,1093.4 L180.3,1087.4 L180.8,1088.5 L181.4,1083.2 L181.9,1083.2 L182.5,1089.9 L183.1,1088.8 L183.6,1092.0 L184.3,1091.9 L185.0,1089.1 L185.8,1093.0 L186.5,1099.3 L187.2,1097.2 L187.9,1090.5 L188.7,1083.6 L189.4,1081.8 L189.9,1069.4 L190.5,1055.5 L191.1,1057.6 L191.6,1061.3 L192.3,1058.6 L193.0,1054.0 L193.6,1048.7 L194.3,1046.7 L194.9,1040.9 L195.4,1040.7 L195.9,1043.8 L196.7,1051.0 L197.4,1056.2 L197.9,1052.7 L198.5,1051.3 L199.1,1045.7 L199.6,1043.8 L200.2,1046.4 L200.8,1043.2 L201.4,1046.7 L202.0,1046.4 L202.6,1040.8 L203.1,1041.9 L203.7,1038.0 L204.3,1043.9 L204.8,1054.1 L205.4,1061.3 L206.2,1074.3 L206.9,1092.0 L207.7,1089.7 L208.4,1083.2 L209.1,1074.3 L209.8,1070.1 L210.4,1078.1 L211.0,1081.8 L211.7,1068.8 L212.4,1058.4 L213.0,1052.9 L213.6,1044.2 L214.2,1038.0 L214.9,1038.7 L215.7,1035.8 L216.4,1042.9 L217.1,1051.1 L217.8,1064.0 L218.6,1075.9 L219.3,1081.6 L220.0,1089.1 L220.6,1094.2 L221.2,1096.7 L221.8,1102.2 L222.4,1098.3 L223.1,1093.1 L223.7,1089.1 L224.4,1093.5 L225.1,1096.4 L225.7,1095.2 L226.3,1096.4 L226.9,1094.1 L227.5,1096.3 L228.1,1093.4 L228.7,1090.2 L229.2,1091.2 L229.8,1088.1 L230.3,1087.6 L231.0,1092.4 L231.7,1094.9 L232.2,1092.6 L232.8,1093.4 L233.3,1089.3 L233.9,1090.5 L234.7,1090.2 L235.4,1084.7 L235.9,1079.2 L236.5,1078.1 L237.1,1072.0 L237.6,1068.6 L238.2,1065.6 L238.7,1060.2 L239.3,1057.7 L239.9,1061.3 L240.6,1060.8 L241.2,1065.7 L241.8,1070.8 L242.5,1074.0 L243.1,1078.8 L243.8,1084.2 L244.6,1084.7 L245.2,1079.7 L245.7,1078.6 L246.3,1074.5 L246.9,1071.4 L247.4,1072.0 L247.9,1068.5 L248.5,1068.6 L249.2,1071.5 L250.0,1069.3 L250.6,1064.3 L251.1,1065.8 L251.6,1060.2 L252.2,1058.4 L252.9,1056.0 L253.6,1051.1 L254.3,1048.9 L255.1,1048.2 L255.6,1056.1 L256.1,1059.9 L256.7,1051.0 L257.3,1045.3 L257.9,1045.2 L258.4,1039.8 L258.9,1039.6 L259.5,1036.5 L260.1,1027.0 L260.6,1021.9 L261.2,1024.5 L261.8,1019.6 L262.4,1021.9 L262.9,1027.0 L263.5,1025.5 L264.1,1032.7 L264.6,1033.6 L265.3,1045.1 L266.0,1058.4 L266.8,1069.4 L267.5,1077.4 L268.2,1094.8 L268.9,1114.6 L269.4,1113.1 L270.0,1110.1 L270.6,1109.6 L271.1,1106.6 L271.9,1100.5 L272.6,1096.4 L273.2,1100.3 L273.7,1097.8 L274.3,1102.2 L274.9,1097.7 L275.5,1090.5 L276.2,1092.4 L277.0,1099.3 L277.6,1100.4 L278.1,1093.8 L278.6,1096.1 L279.2,1093.4 L279.8,1090.7 L280.3,1090.6 L280.8,1087.1 L281.4,1086.1 L282.0,1087.6 L282.6,1089.2 L283.1,1087.3 L283.6,1092.2 L284.2,1090.5 L284.9,1083.9 L285.6,1081.8 L286.2,1082.2 L286.7,1077.8 L287.2,1080.7 L287.8,1077.4 L288.4,1075.7 L288.9,1077.1 L289.4,1071.7 L290.0,1073.0 L290.8,1075.9 L291.5,1074.5 L292.1,1069.1 L292.6,1069.4 L293.1,1063.8 L293.7,1061.3 L294.4,1065.6 L295.1,1065.7 L295.9,1059.5 L296.6,1055.5 L297.4,1049.6 L298.1,1039.4 L298.8,1030.3 L299.5,1026.3 L300.2,1023.9 L301.0,1019.0 L301.7,1016.6 L302.4,1016.8 L302.9,1020.6 L303.5,1017.4 L304.1,1021.4 L304.6,1021.9 L305.2,1023.8 L305.7,1027.7 L306.2,1027.2 L306.8,1032.1 L307.6,1037.9 L308.3,1039.4 L309.0,1046.7 L309.7,1055.5 L310.2,1059.5 L310.8,1056.6 L311.3,1062.8 L311.9,1062.8 L312.4,1069.6 L312.9,1078.8 L313.5,1092.1 L314.1,1102.2 L314.9,1111.7 L315.6,1122.6 L316.3,1126.0 L317.0,1128.5 L317.8,1120.1 L318.5,1116.8 L319.1,1116.7 L319.6,1111.4 L320.2,1111.0 L320.8,1118.6 L321.4,1121.2 L322.1,1114.7 L322.9,1111.0 L323.6,1106.0 L324.3,1096.4 L325.1,1098.5 L325.8,1105.1 L326.4,1102.3 L326.9,1096.8 L327.4,1095.2 L328.0,1090.5 L328.7,1094.7 L329.4,1100.7 L329.9,1102.4 L330.5,1099.7 L331.1,1102.0 L331.6,1100.7 L332.4,1095.7 L333.1,1092.0 L333.9,1096.6 L334.6,1096.4 L335.3,1090.4 L336.0,1088.1 L336.7,1081.8 L337.4,1083.0 L338.2,1087.6 L338.8,1086.7 L339.3,1079.7 L339.8,1080.2 L340.4,1074.5 L341.0,1069.2 L341.6,1068.5 L342.1,1061.5 L342.7,1059.7 L343.3,1055.5 L343.9,1052.3 L344.4,1052.7 L344.9,1049.6 L345.5,1048.2 L346.2,1044.9 L347.0,1037.2 L347.7,1041.9 L348.4,1048.2 L349.2,1056.9 L349.9,1054.7 L350.6,1049.6 L351.2,1048.7 L351.7,1053.4 L352.2,1051.8 L352.8,1054.0 L353.4,1057.7 L353.9,1056.8 L354.4,1062.7 L355.0,1062.8 L355.6,1065.1 L356.1,1070.2 L356.7,1071.5 L357.4,1075.3 L358.2,1081.0 L358.8,1077.3 L359.4,1071.5 L359.9,1067.6 L360.5,1069.4 L361.1,1064.4 L361.6,1064.2 L362.2,1064.8 L362.7,1058.9 L363.2,1061.2 L363.8,1058.4 L364.5,1058.1 L365.2,1061.3 L365.8,1063.5 L366.3,1061.2 L366.8,1065.4 L367.4,1064.2 L368.1,1065.8 L368.9,1070.1 L369.6,1084.1 L370.3,1094.9 L371.1,1094.9 L371.8,1097.8 L372.4,1099.0 L372.9,1093.3 L373.4,1096.3 L374.0,1092.7 L374.6,1091.5 L375.3,1096.2 L376.0,1094.9 L376.6,1097.8 L377.2,1099.6 L377.9,1094.1 L378.5,1096.3 L379.1,1094.9 L379.8,1089.1 L380.5,1084.7 L381.2,1084.6 L381.9,1081.8 L382.6,1078.3 L383.4,1075.9 L384.1,1078.3 L384.8,1078.8 L385.6,1068.8 L386.3,1059.9 L387.1,1065.4 L387.8,1067.2 L388.5,1053.4 L389.2,1043.8 L389.8,1042.5 L390.4,1035.7 L391.0,1032.8 L391.6,1037.0 L392.3,1035.3 L392.9,1039.4 L393.6,1051.1 L394.3,1061.3 L394.9,1070.7 L395.4,1084.7 L395.9,1087.9 L396.5,1086.1 L397.2,1078.7 L398.0,1073.0 L398.6,1075.1 L399.1,1071.0 L399.6,1073.3 L400.2,1071.5 L400.8,1064.9 L401.3,1065.7 L401.8,1058.7 L402.4,1055.5 L403.0,1062.2 L403.5,1064.6 L404.1,1071.5 L404.7,1067.3 L405.4,1060.0 L406.0,1055.5 L406.6,1056.6 L407.1,1053.5 L407.6,1055.9 L408.2,1055.5 L408.9,1045.1 L409.7,1038.0 L410.2,1040.1 L410.8,1039.0 L411.3,1041.3 L411.8,1040.9 L412.4,1043.5 L412.9,1051.2 L413.4,1053.5 L414.0,1058.4 L414.8,1071.9 L415.5,1080.3 L416.2,1092.8 L417.0,1109.5 L417.7,1118.6 L418.4,1122.6 L419.1,1124.9 L419.9,1128.5 L420.4,1127.3 L421.0,1123.6 L421.6,1124.0 L422.1,1119.7 L422.8,1115.8 L423.5,1113.9 L424.2,1119.7 L425.0,1124.1 L425.6,1118.0 L426.1,1117.0 L426.6,1107.6 L427.2,1105.1 L427.8,1106.8 L428.3,1105.8 L428.8,1109.7 L429.4,1108.0 L429.9,1107.1 L430.5,1111.4 L431.1,1109.7 L431.6,1111.0 L432.3,1107.6 L433.0,1101.3 L433.7,1099.3 L434.2,1103.9 L434.8,1105.3 L435.3,1111.6 L435.9,1112.4 L436.4,1106.6 L437.0,1106.6 L437.6,1099.8 L438.1,1096.4 L438.9,1100.8 L439.6,1100.7 L440.3,1095.8 L441.0,1092.0 L441.6,1093.6 L442.1,1089.2 L442.6,1091.0 L443.2,1089.1 L443.8,1084.2 L444.3,1084.9 L444.8,1078.2 L445.4,1075.9 L445.9,1075.5 L446.5,1072.1 L447.1,1073.5 L447.6,1071.5 L448.4,1072.4 L449.1,1074.5 L449.8,1063.6 L450.5,1051.1 L451.2,1049.8 L452.0,1049.6 L452.6,1047.9 L453.1,1043.4 L453.6,1043.0 L454.2,1039.4 L454.8,1039.2 L455.3,1044.1 L455.8,1043.4 L456.4,1046.7 L456.9,1050.0 L457.5,1050.6 L458.1,1054.8 L458.6,1056.9 L459.3,1060.3 L460.0,1065.7 L460.8,1066.9 L461.5,1067.2 L462.2,1067.3 L462.9,1071.5 L463.6,1082.6 L464.4,1090.5 L465.1,1099.2 L465.9,1109.5 L466.6,1108.7 L467.3,1105.1 L468.1,1096.8 L468.8,1093.4 L469.4,1089.7 L469.9,1082.4 L470.4,1081.6 L471.0,1075.9 L471.6,1072.6 L472.1,1074.5 L472.6,1069.2 L473.2,1068.6 L473.9,1073.8 L474.6,1075.9 L475.3,1073.3 L476.0,1074.5 L476.6,1077.5 L477.2,1074.3 L477.8,1075.9 L478.4,1084.0 L478.9,1087.6 L479.6,1094.0 L480.4,1104.4 L481.1,1104.3 L481.8,1100.7 L482.6,1096.5 L483.3,1094.9 L484.1,1098.3 L484.8,1099.3 L485.4,1099.5 L485.9,1100.7 L486.4,1092.6 L486.9,1083.2 L487.6,1078.3 L488.4,1074.5 L489.1,1080.2 L489.9,1081.8 L490.6,1075.7 L491.3,1071.5 L492.1,1070.1 L492.8,1067.2 L493.5,1062.2 L494.2,1058.4 L494.8,1057.0 L495.3,1048.8 L495.8,1049.3 L496.4,1043.8 L497.0,1040.7 L497.6,1040.7 L498.2,1037.7 L498.8,1038.2 L499.5,1042.2 L500.1,1042.3 L500.7,1043.6 L501.2,1047.7 L501.8,1047.4 L502.3,1050.4 L503.0,1065.7 L503.7,1075.9 L504.3,1077.8 L504.9,1084.7 L505.4,1098.0 L505.9,1108.0 L506.6,1105.6 L507.4,1105.1 L508.1,1107.6 L508.8,1105.1 L509.4,1105.9 L509.9,1108.8 L510.4,1104.5 L511.0,1097.8 L511.8,1095.9 L512.5,1094.9 L513.2,1091.7 L514.0,1086.1 L514.7,1079.6 L515.4,1075.9 L516.1,1073.1 L516.9,1067.2 L517.6,1063.4 L518.3,1061.3 L518.8,1063.2 L519.4,1061.6 L520.0,1063.4 L520.5,1062.8 L521.2,1067.3 L522.0,1073.0 L522.7,1070.6 L523.4,1065.7 L524.1,1067.4 L524.9,1070.1 L525.5,1067.2 L526.0,1062.4 L526.5,1061.1 L527.1,1056.9 L527.6,1058.0 L528.2,1064.0 L528.8,1063.1 L529.3,1067.9 L530.0,1064.2 L530.7,1056.9 L531.5,1049.1 L532.2,1045.3 L532.8,1046.2 L533.3,1041.1 L533.9,1042.0 L534.4,1039.4 L535.1,1040.5 L535.9,1046.7 L536.6,1043.8 L537.3,1039.4 L537.9,1035.9 L538.5,1038.3 L539.1,1035.0 L539.7,1036.9 L540.4,1042.1 L541.0,1042.3 L541.7,1042.9 L542.4,1048.2 L543.2,1061.3 L543.9,1074.8 L544.6,1084.7 L545.4,1090.0 L546.1,1099.3 L546.8,1104.7 L547.5,1105.8 L548.0,1104.7 L548.6,1106.7 L549.2,1103.2 L549.7,1104.4 L550.5,1101.1 L551.2,1093.4 L551.8,1091.2 L552.3,1095.6 L552.9,1091.7 L553.4,1093.4 L554.0,1094.7 L554.5,1089.3 L555.0,1092.1 L555.6,1089.1 L556.3,1086.7 L557.0,1086.1 L557.8,1088.8 L558.5,1090.5 L559.0,1088.4 L559.6,1088.8 L560.2,1085.5 L560.7,1084.7 L561.2,1084.7 L561.8,1078.7 L562.4,1079.9 L562.9,1075.9 L563.6,1071.9 L564.3,1071.5 L565.0,1070.8 L565.8,1066.4 L566.3,1065.8 L566.9,1068.7 L567.5,1067.0 L568.0,1070.1 L568.7,1073.6 L569.4,1073.0 L570.1,1080.2 L570.9,1090.5 L571.6,1096.1 L572.4,1098.5 L573.1,1092.6 L573.8,1090.5 L574.4,1083.1 L575.0,1074.7 L575.6,1070.9 L576.2,1072.2 L576.8,1068.9 L577.4,1067.7 L578.0,1068.4 L578.5,1065.1 L579.1,1067.7 L579.7,1066.6 L580.3,1061.6 L580.9,1060.7 L581.5,1060.1 L582.0,1053.0 L582.6,1051.4 L583.2,1050.3 L583.8,1045.3 L584.4,1044.4 L585.0,1045.1 L585.5,1042.0 L586.1,1036.4 L586.7,1035.0 L587.3,1033.3 L587.9,1028.0 L588.5,1027.0 L589.0,1030.2 L589.6,1030.4 L590.2,1033.7 L590.8,1038.5 L591.4,1049.4 L592.0,1058.4 L592.5,1068.1 L593.1,1081.8 L593.7,1091.9 L594.3,1099.9 L594.9,1091.0 L595.5,1085.3 L596.1,1081.4 L596.6,1076.2 L597.2,1072.4 L597.8,1070.2 L598.4,1064.1 L599.0,1064.7 L599.6,1059.6 L600.2,1055.7 L600.8,1056.5 L601.3,1051.9 L601.9,1051.4 L602.5,1055.2 L603.1,1056.1 L603.8,1062.8 L604.5,1072.4 L605.2,1077.2 L606.0,1080.6 L606.6,1076.3 L607.1,1077.5 L607.7,1074.7 L608.3,1069.4 L608.9,1071.8 L609.5,1066.6 L610.1,1063.4 L610.6,1062.5 L611.2,1058.4 L611.8,1057.3 L612.4,1060.7" fill="none" stroke="#111" stroke-width="1.8" stroke-linejoin="round"/>
<rect x="90" y="619.2" width="523.5" height="533.8" fill="none" stroke="#000" stroke-width="2.1"/>
<path d="M194.7,1153 v-8.3 M299.4,1153 v-8.3 M404.1,1153 v-8.3 M508.8,1153 v-8.3 M90,675.1 h8.3 M90,730.9 h8.3 M90,786.8 h8.3 M90,842.7 h8.3 M90,898.6 h8.3 M90,954.4 h8.3 M90,1010.3 h8.3 M613.5,981.4 h-8.3 M613.5,1009.9 h-8.3 M613.5,1038.4 h-8.3 M613.5,1066.9 h-8.3 M613.5,1095.4 h-8.3 M613.5,1123.9 h-8.3" stroke="#000" stroke-width="1.5" fill="none"/>
<text x="92.0" y="1179" font-size="19.5" text-anchor="middle">0</text>
<text x="196.7" y="1179" font-size="19.5" text-anchor="middle">200</text>
<text x="301.4" y="1179" font-size="19.5" text-anchor="middle">400</text>
<text x="406.1" y="1179" font-size="19.5" text-anchor="middle">600</text>
<text x="510.8" y="1179" font-size="19.5" text-anchor="middle">800</text>
<text x="615.5" y="1179" font-size="19.5" text-anchor="middle">1000</text>
<text x="79.3" y="623.0" font-size="20" text-anchor="end">1.35</text>
<text x="79.3" y="678.9" font-size="20" text-anchor="end">1.30</text>
<text x="79.3" y="734.7" font-size="20" text-anchor="end">1.25</text>
<text x="79.3" y="790.6" font-size="20" text-anchor="end">1.20</text>
<text x="79.3" y="846.5" font-size="20" text-anchor="end">1.15</text>
<text x="79.3" y="902.4" font-size="20" text-anchor="end">1.10</text>
<text x="79.3" y="958.2" font-size="20" text-anchor="end">1.05</text>
<text x="79.3" y="1014.1" font-size="20" text-anchor="end">1.00</text>
<text x="623.5" y="985.2" font-size="20">2.5</text>
<text x="623.5" y="1013.7" font-size="20">3.0</text>
<text x="623.5" y="1042.2" font-size="20">3.5</text>
<text x="623.5" y="1070.7" font-size="20">4.0</text>
<text x="623.5" y="1099.2" font-size="20">4.5</text>
<text x="623.5" y="1127.7" font-size="20">5.0</text>
<text x="623.5" y="1156.2" font-size="20">5.5</text>
<text x="357" y="1209.5" font-size="22">kyr</text>
<text transform="translate(17,858) rotate(-90)" font-size="21.5"><tspan font-size="13" dy="-8.5">234</tspan><tspan dy="8.5">U/</tspan><tspan font-size="13" dy="-8.5">238</tspan><tspan dy="8.5">U</tspan></text>
<text transform="translate(684,1129.7) rotate(-90)" font-size="22.2">Benthic δ<tspan font-size="13.5" dy="-8.5">18</tspan><tspan dy="8.5">O</tspan></text>
<text x="94.9" y="1007.5" font-size="16">MIS</text>
<text x="95.8" y="1025.9" font-size="16">1</text>
<text x="151.8" y="1006.9" font-size="16">5</text>
<text x="205.2" y="1023.5" font-size="16">7</text>
<text x="255.8" y="1010.4" font-size="16">9</text>
<text x="292.3" y="1006.9" font-size="16">11</text>
<text x="339.0" y="1027.3" font-size="16">13</text>
<text x="389.8" y="1019.5" font-size="16">15</text>
<text x="445.2" y="1028.2" font-size="16">17</text>
<text x="488.8" y="1028.7" font-size="16">19</text>
<text x="529.1" y="1024.6" font-size="16">21</text>
<text x="555.9" y="1055.5" font-size="16">23</text>
<text x="579.1" y="1018.5" font-size="16">25</text>
</svg></body></html>
